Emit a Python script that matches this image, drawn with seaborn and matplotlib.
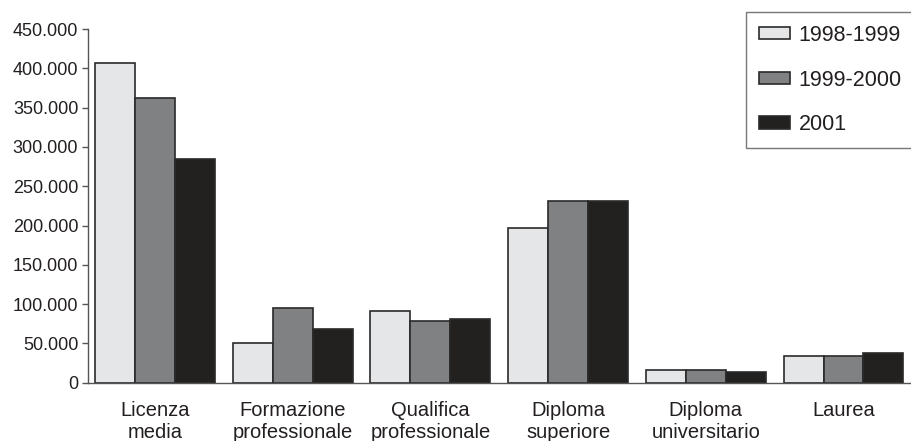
import matplotlib
matplotlib.use('Agg')
import matplotlib.pyplot as plt
import numpy as np
import pandas as pd
import seaborn as sns
from matplotlib.ticker import FuncFormatter

sns.set_theme(style='white')
plt.rcParams['font.family'] = ['Liberation Sans', 'DejaVu Sans']

# %%
# Data
categories = ['Licenza\nmedia', 'Formazione\nprofessionale', 'Qualifica\nprofessionale',
              'Diploma\nsuperiore', 'Diploma\nuniversitario', 'Laurea']
years = ['1998-1999', '1999-2000', '2001']
v_1998 = [407000, 51000, 91500, 197000, 16500, 34000]
v_1999 = [362500, 94500, 78000, 231000, 16500, 34000]
v_2001 = [285000, 68000, 81500, 231000, 14000, 38000]
colors = ['#e5e6e8', '#808183', '#231f20']

df = pd.DataFrame({
    'Categoria': categories * 3,
    'Anno': np.repeat(years, len(categories)),
    'Valore': v_1998 + v_1999 + v_2001,
})

# %%
fig = plt.figure(figsize=(9.11, 4.41), dpi=100)
ax = fig.add_axes([88 / 911, (441 - 382.7) / 441, 1 - 88 / 911, (382.7 - 29) / 441])

sns.barplot(
    data=df, x='Categoria', y='Valore', hue='Anno',
    palette=colors, width=0.87, gap=0,
    edgecolor='#2a2a2a', linewidth=1.2, ax=ax, errorbar=None,
)

ax.set_ylim(0, 450000)
ax.set_xlim(-0.486, 5.49)
ax.set_yticks(np.arange(0, 450001, 50000))
ax.yaxis.set_major_formatter(FuncFormatter(lambda v, p: f'{int(v):,}'.replace(',', '.')))
ax.set_xlabel('')
ax.set_ylabel('')

for s in ['top', 'right']:
    ax.spines[s].set_visible(False)
for s in ['left', 'bottom']:
    ax.spines[s].set_color('#555555')
    ax.spines[s].set_linewidth(1.0)

ax.tick_params(axis='y', which='major', left=True, length=4, width=1, color='#555555',
               labelsize=13, labelcolor='#231f20', pad=3)
ax.tick_params(axis='x', bottom=False, labelsize=14.5, labelcolor='#231f20', pad=7)

leg = ax.legend(
    loc='upper left', bbox_to_anchor=(746 / 911, 1 - 12 / 441),
    bbox_transform=fig.transFigure, fontsize=15.5, frameon=True, fancybox=False,
    edgecolor='#555555', labelspacing=1.1, handlelength=1.45, handleheight=0.5,
    handletextpad=0.4, borderpad=0.6, borderaxespad=0,
)
leg.get_frame().set_linewidth(1.0)
for t in leg.get_texts():
    t.set_color('#231f20')

fig.savefig('out.png', dpi=100)
